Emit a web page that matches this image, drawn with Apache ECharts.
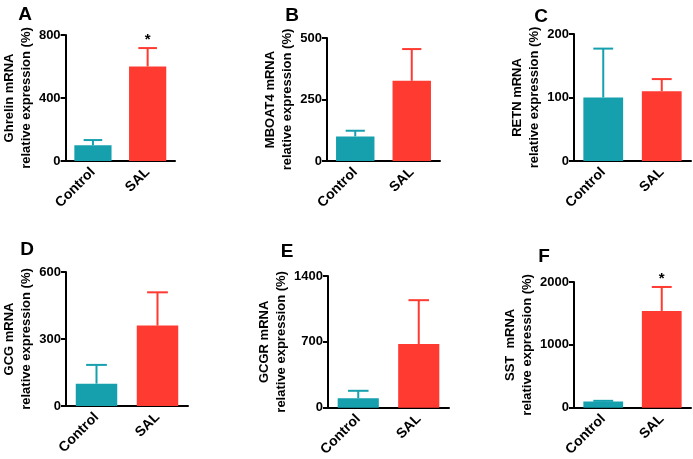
<!DOCTYPE html>
<html><head><meta charset="utf-8">
<script src="https://cdn.jsdelivr.net/npm/echarts@6/dist/echarts.min.js"></script>
<style>html,body{margin:0;padding:0;background:#fff}#c{width:693px;height:459px}</style>
</head><body><div id="c"></div>
<script>
var categories = ['Control', 'SAL'];
var ghrelinMean = [100, 600], ghrelinSD = [33, 117], ghrelinSig = ['', '*'];
var mboat4Mean = [100, 326], mboat4SD = [23, 129], mboat4Sig = ['', ''];
var retnMean = [100, 110], retnSD = [77, 19], retnSig = ['', ''];
var gcgMean = [100, 360], gcgSD = [84, 149], gcgSig = ['', ''];
var gcgrMean = [100, 677], gcgrSD = [80, 466], gcgrSig = ['', ''];
var sstMean = [100, 1540], sstSD = [10, 381], sstSig = ['', '*'];
var yMax = [800, 500, 200, 600, 1400, 2000];
var yInterval = [400, 250, 100, 300, 700, 1000];
var yNames = ['Ghrelin mRNA', 'MBOAT4 mRNA', 'RETN mRNA', 'GCG mRNA', 'GCGR mRNA', 'SST  mRNA'];
var letters = ['A', 'B', 'C', 'D', 'E', 'F'];

var panels = [
  {mean: ghrelinMean, sd: ghrelinSD, sig: ghrelinSig},
  {mean: mboat4Mean, sd: mboat4SD, sig: mboat4Sig},
  {mean: retnMean, sd: retnSD, sig: retnSig},
  {mean: gcgMean, sd: gcgSD, sig: gcgSig},
  {mean: gcgrMean, sd: gcgrSD, sig: gcgrSig},
  {mean: sstMean, sd: sstSD, sig: sstSig}
];
var grids = [
  {left: 59, top: 35, width: 116, height: 126},
  {left: 327, top: 38, width: 113, height: 123},
  {left: 574, top: 34, width: 117, height: 127},
  {left: 63, top: 272, width: 125, height: 134},
  {left: 328, top: 276, width: 121, height: 132},
  {left: 574, top: 282, width: 117, height: 126}
];
var nameGaps = [27, 28, 29, 31, 34, 30];
var letterPos = [[25, 15], [292, 16], [541, 17], [27, 250], [287, 252], [544, 257]];
var colors = ['#16a0ae', '#ff3a30'];
var FONT = '"Liberation Sans", Arial, Helvetica, sans-serif';
var BAR_FRAC = 0.68;

var chart = echarts.init(document.getElementById('c'), null, {renderer: 'canvas'});
var option = {
  animation: false,
  backgroundColor: '#fff',
  grid: [], xAxis: [], yAxis: [], series: [], graphic: []
};
panels.forEach(function (p, i) {
  option.grid.push(Object.assign({containLabel: false}, grids[i]));
  option.xAxis.push({
    type: 'category', gridIndex: i, data: categories,
    axisLine: {lineStyle: {color: '#000', width: 2}},
    axisTick: {show: false},
    axisLabel: {rotate: 45, margin: 9, color: '#000', fontWeight: 'bold', fontSize: 14, fontFamily: FONT, interval: 0}
  });
  option.yAxis.push({
    type: 'value', gridIndex: i, min: 0, max: yMax[i], interval: yInterval[i],
    name: yNames[i] + '\nrelative expression (%)',
    nameLocation: 'middle', nameGap: nameGaps[i], nameRotate: 90,
    nameTextStyle: {color: '#000', fontWeight: 'bold', fontSize: 13, lineHeight: 17, fontFamily: FONT},
    axisLine: {show: true, lineStyle: {color: '#000', width: 2}},
    axisTick: {show: true, length: 5, lineStyle: {color: '#000', width: 2}},
    axisLabel: {margin: 5, color: '#000', fontWeight: 'bold', fontSize: 13, fontFamily: FONT,
      formatter: function (v) { return String(v); }},
    splitLine: {show: false}
  });
  option.series.push({
    type: 'bar', xAxisIndex: i, yAxisIndex: i, barWidth: (BAR_FRAC * 100) + '%',
    data: p.mean.map(function (v, k) { return {value: v, itemStyle: {color: colors[k]}}; }),
    z: 2
  });
  option.series.push({
    type: 'custom', xAxisIndex: i, yAxisIndex: i, z: 3,
    data: p.mean.map(function (v, k) { return [k, v, p.sd[k]]; }),
    renderItem: function (params, api) {
      var k = api.value(0), m = api.value(1), s = api.value(2);
      var base = api.coord([k, m]);
      var top = api.coord([k, m + s]);
      var half = api.size([1, 0])[0] * BAR_FRAC / 4;
      var col = colors[k];
      var children = [
        {type: 'line', shape: {x1: base[0], y1: base[1], x2: top[0], y2: top[1]}, style: {stroke: col, lineWidth: 2}},
        {type: 'line', shape: {x1: top[0] - half, y1: top[1], x2: top[0] + half, y2: top[1]}, style: {stroke: col, lineWidth: 2}}
      ];
      if (p.sig[k]) {
        children.push({type: 'text', x: top[0], y: top[1] - 1, style: {text: p.sig[k], fill: '#000', font: 'bold 15px ' + FONT, align: 'center', verticalAlign: 'bottom'}});
      }
      return {type: 'group', children: children};
    }
  });
  option.graphic.push({
    type: 'text', x: letterPos[i][0], y: letterPos[i][1],
    style: {text: letters[i], fill: '#000', font: 'bold 19px ' + FONT, align: 'center', verticalAlign: 'middle'}
  });
});
chart.setOption(option);
</script></body></html>
